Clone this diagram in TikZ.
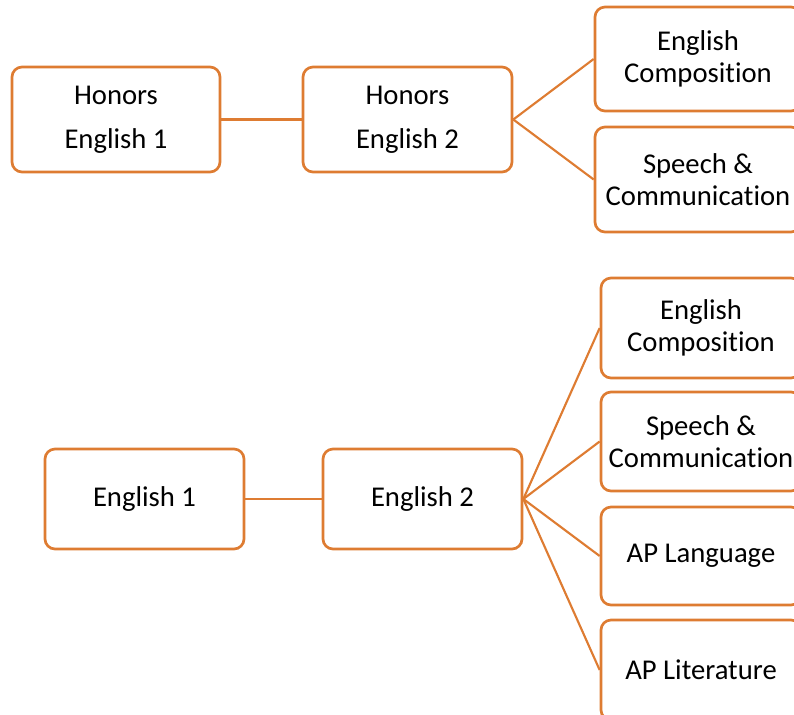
\documentclass[tikz,border=0pt]{standalone}
\usepackage{fontspec}
\setmainfont{Carlito}[Ligatures={NoCommon}]
\definecolor{orng}{RGB}{222,124,50}
\begin{document}
\begin{tikzpicture}[x=0.75pt,y=-0.75pt,
  box/.style={draw=orng,line width=2pt,rounded corners=7.5pt,fill=white,align=center,inner sep=0pt,font=\fontsize{21.5}{23.5}\selectfont},
  wide/.style={font=\fontsize{21.5}{33}\selectfont},
  link/.style={draw=orng,line width=1.6pt}]
\useasboundingbox (0,0) rectangle (794,715);
\clip (0,0) rectangle (794,715);
% top group
\node[box,wide,minimum width=156pt,minimum height=78.75pt] (he1) at (116,119.5) {Honors\\English 1};
\node[box,wide,minimum width=156.75pt,minimum height=78.75pt] (he2) at (407.5,119.5) {Honors\\English 2};
\node[box,minimum width=154.5pt,minimum height=78pt] (ec1) at (698,59) {English\\Composition};
\node[box,minimum width=154.5pt,minimum height=78.75pt] (sc1) at (698,179.5) {Speech \&\\Communication};
\draw[link] (he1.east) -- (he2.west);
\draw[link] (he2.east) -- (ec1.west);
\draw[link] (he2.east) -- (sc1.west);
% bottom group
\node[box,minimum width=149.25pt,minimum height=75pt] (e1) at (144.5,499) {English 1};
\node[box,minimum width=149.25pt,minimum height=75pt] (e2) at (422.5,499) {English 2};
\node[box,minimum width=150pt,minimum height=75pt] (ec2) at (701,328) {English\\Composition};
\node[box,minimum width=150pt,minimum height=74.25pt] (sc2) at (701,441.5) {Speech \&\\Communication};
\node[box,minimum width=150pt,minimum height=73.5pt] (apl) at (701,556) {AP Language};
\node[box,minimum width=150pt,minimum height=75pt] (aplit) at (701,670) {AP Literature};
\draw[link] (e1.east) -- (e2.west);
\draw[link] (e2.east) -- (ec2.west);
\draw[link] (e2.east) -- (sc2.west);
\draw[link] (e2.east) -- (apl.west);
\draw[link] (e2.east) -- (aplit.west);
\end{tikzpicture}
\end{document}
